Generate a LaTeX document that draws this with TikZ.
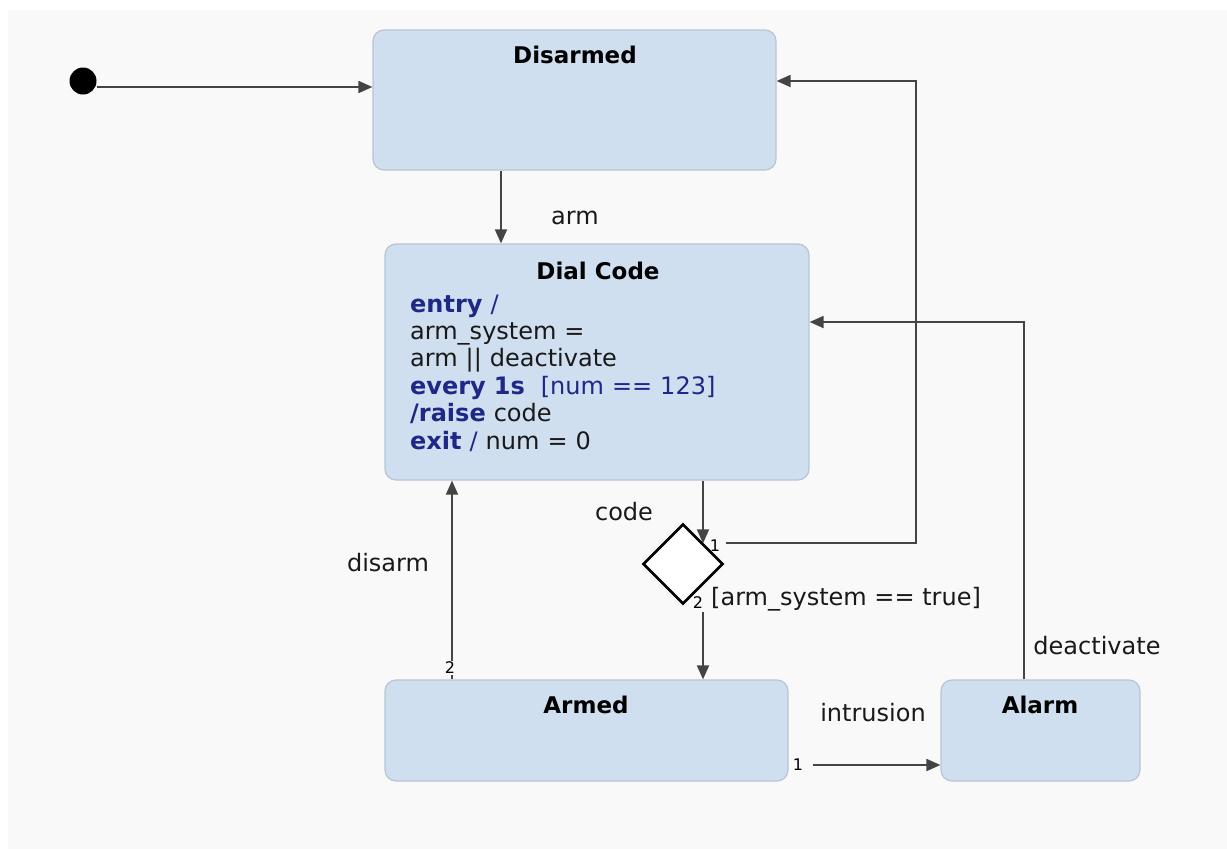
\documentclass[tikz,border=0pt]{standalone}
\usepackage{fontspec}
\setmainfont{DejaVu Sans}
\usetikzlibrary{arrows.meta,shapes.geometric}
\definecolor{bgc}{RGB}{249,249,249}
\definecolor{stfill}{RGB}{208,223,240}
\definecolor{stdraw}{RGB}{184,196,212}
\definecolor{navy}{RGB}{30,40,135}
\definecolor{linec}{RGB}{68,68,68}
\definecolor{txt}{RGB}{25,25,25}
\newcommand{\kw}[1]{\textcolor{navy}{\textbf{#1}}}
\tikzset{
  statebox/.style={draw=stdraw, line width=1.2pt, fill=stfill, rounded corners=11pt, inner sep=0pt},
  title/.style={font=\fontsize{23}{27}\bfseries\selectfont, text=black, inner sep=0pt},
  lbl/.style={font=\fontsize{24}{27.4}\selectfont, text=txt, inner sep=0pt},
  port/.style={font=\fontsize{16}{18}\selectfont, text=black, inner sep=1pt},
  arr/.style={draw=linec, line width=1.8pt, -{Triangle[length=14pt,width=12pt]}},
}
\begin{document}
\begin{tikzpicture}[x=1pt,y=-1pt]
\useasboundingbox (0,0) rectangle (1227,849);
\fill[bgc] (8,10) rectangle (1227,849);

% states
\node[statebox, minimum width=403pt, minimum height=140pt] (Disarmed) at (574.5,100) {};
\node[statebox, minimum width=424pt, minimum height=236pt] (Dial) at (597,362) {};
\node[statebox, minimum width=403pt, minimum height=101pt] (Armed) at (586.5,730.5) {};
\node[statebox, minimum width=199pt, minimum height=101pt] (Alarm) at (1040.5,730.5) {};

\node[title] (tDisarmed) at (575,55) {Disarmed};
\node[title] (tDial) at (598,271) {Dial Code};
\node[title] (tArmed) at (586,705) {Armed};
\node[title] (tAlarm) at (1040,705) {Alarm};

\node[lbl, anchor=base west, align=left, text width=380pt] (body) at (410,312)
  {\kw{entry} \textcolor{navy}{/}\\
   arm\_system =\\
   arm || deactivate\\
   \kw{every 1s} \textcolor{navy}{\ [num == 123]}\\
   \kw{/raise} code\\
   \kw{exit} \textcolor{navy}{/} num = 0};

% choice and initial
\node[diamond, aspect=1, draw=black, line width=2.6pt, fill=white, minimum width=80pt, minimum height=80pt, inner sep=0pt] (dia) at (683,564) {};
\coordinate (r1) at (916,81);
\node[circle, fill=black, minimum size=27pt, inner sep=0pt] (init) at (83,81) {};

% connectors
\draw[arr] ([yshift=-6pt]init.east) -- ([yshift=-6pt]init.east -| Disarmed.west);
\draw[arr] ([xshift=-73.5pt]Disarmed.south) -- ([xshift=-96pt]Dial.north);
\draw[arr] ([xshift=106pt]Dial.south) -- ([xshift=106pt]Dial.south |- dia.north east);
\draw[arr] ([xshift=22pt]dia.north east) -| (r1) -- (r1 -| Disarmed.east);
\draw[arr] ([xshift=116.5pt,yshift=67pt]Armed.north) -- ([xshift=116.5pt]Armed.north);
\draw[arr] ([xshift=-134.5pt]Armed.north) -- ([xshift=-145pt]Dial.south);
\draw[arr] ([xshift=24pt,yshift=-34.5pt]Armed.east) -- ([yshift=-34.5pt]Alarm.west);
\draw[arr] ([xshift=-16.5pt]Alarm.north) |- ([yshift=40pt]Dial.east);

% labels
\node[lbl] (larm) at (575,218) {arm};
\node[lbl] (lcode) at (624,512) {code};
\node[lbl] (ldisarm) at (388,563) {disarm};
\node[lbl, anchor=west] (lguard) at (711,599) {[arm\_system == true]};
\node[lbl] (lintr) at (873,713) {intrusion};
\node[lbl] (ldeact) at (1097,646) {deactivate};
\node[port] (p1) at (715,546) {1};
\node[port] (p2) at (698,603) {2};
\node[port, fill=bgc] (p3) at (450,668) {2};
\node[port] (p4) at (798,765) {1};
\end{tikzpicture}
\end{document}
